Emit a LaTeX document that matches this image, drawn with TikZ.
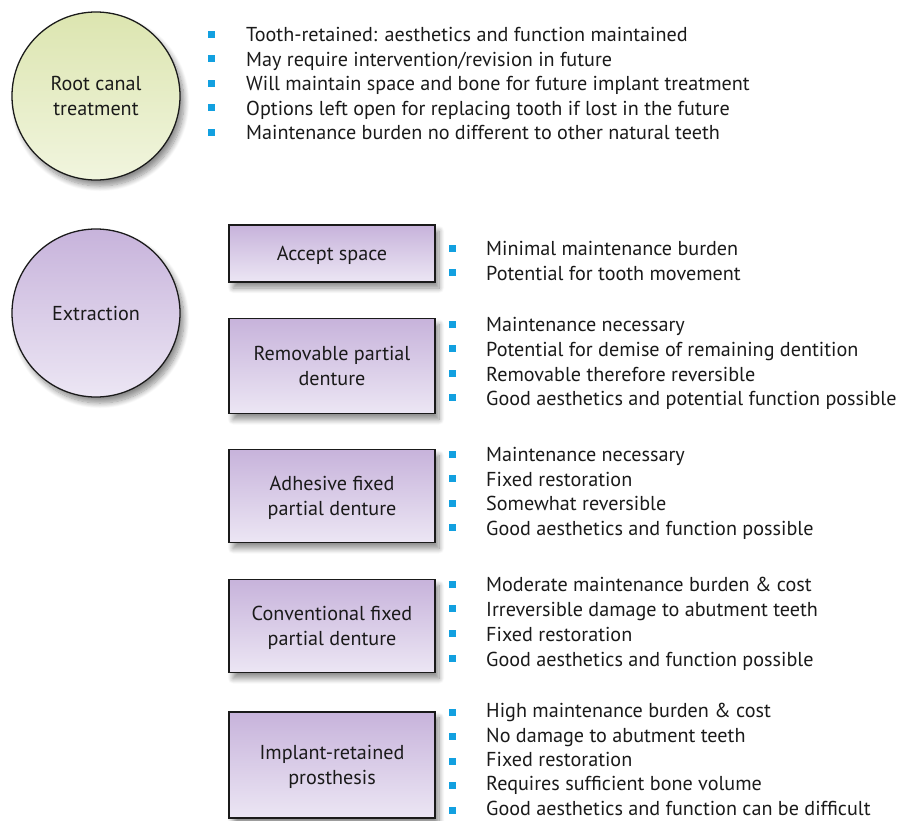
\documentclass[tikz,border=0pt]{standalone}
\usepackage{fontspec}
\setmainfont{PT Sans}
\usetikzlibrary{shadows.blur, positioning}
\definecolor{rcGreenTop}{HTML}{DCE5B0}
\definecolor{rcGreenBot}{HTML}{F1F5DE}
\definecolor{rcGreenLine}{HTML}{A9C26B}
\definecolor{exPurpleTop}{HTML}{C7B3DB}
\definecolor{exPurpleBot}{HTML}{ECE6F4}
\definecolor{exPurpleLine}{HTML}{7D5E9A}
\definecolor{bulletBlue}{HTML}{12A0E0}
\definecolor{txtGrey}{HTML}{1A1A1A}
\tikzset{
  % one unit is one pixel of the original figure, y runs downwards
  every picture/.append style = {x=0.3mm, y=-0.3mm},
  softshadow/.style = {blur shadow={shadow xshift=1.2mm, shadow yshift=-1.8mm,
                        shadow blur steps=10, shadow blur radius=1.6mm, shadow opacity=45}},
  greenball/.style  = {circle, minimum size=50.4mm, draw=rcGreenLine, line width=1.1pt,
                       top color=rcGreenTop, bottom color=rcGreenBot, softshadow,
                       align=center, txtGrey},
  purpleball/.style = {circle, minimum size=50.4mm, draw=exPurpleLine, line width=1.1pt,
                       top color=exPurpleTop, bottom color=exPurpleBot, softshadow,
                       align=center, txtGrey},
  optbox/.style     = {rectangle, minimum width=61.8mm, draw=exPurpleLine, line width=1.5pt,
                       top color=exPurpleTop, bottom color=exPurpleBot, softshadow,
                       align=center, txtGrey, text depth=0pt},
  sqbullet/.style   = {rectangle, fill=bulletBlue, inner sep=0pt, minimum size=2.1mm},
  item/.style       = {anchor=mid west, inner sep=0pt, txtGrey},
}
\begin{document}
\begin{tikzpicture}[font=\fontsize{17.2}{21}\selectfont]
  \useasboundingbox (0,0) rectangle (898,820);
  % the two main options
  \node[greenball, text depth=0pt] (rct) at (96,96) {Root canal\\treatment};
  \node[purpleball] (ext) at (96,313) {Extraction};
  % root canal outcomes
  \foreach \txt [count=\i from 0] in {Tooth-retained: aesthetics and function maintained,
      May require intervention/revision in future,
      Will maintain space and bone for future implant treatment,
      Options left open for replacing tooth if lost in the future,
      Maintenance burden no different to other natural teeth} {
    \node[sqbullet] (rct-b\i) at (211,34+24.5*\i) {};
    \node[item] (rct-t\i) at (246,39+24.5*\i) {\txt};
  }
  % replacement options after extraction
  \node[optbox, minimum height=17.1mm] (accept) at (332,253.5) {Accept space};
  \node[optbox, minimum height=28.5mm] (rpd) at (332,366) {Removable partial\\denture};
  \node[optbox, minimum height=27.9mm] (afpd) at (332,496) {Adhesive fixed\\partial denture};
  \node[optbox, minimum height=27.9mm] (cfpd) at (332,626) {Conventional fixed\\partial denture};
  \node[optbox, minimum height=32mm] (impl) at (332,765) {Implant-retained\\prosthesis};
  \foreach \txt [count=\i from 0] in {Minimal maintenance burden,
      Potential for tooth movement} {
    \node[sqbullet] (acc-b\i) at (452,248+24.5*\i) {};
    \node[item] (acc-t\i) at (486,253+24.5*\i) {\txt};
  }
  \foreach \txt [count=\i from 0] in {Maintenance necessary,
      Potential for demise of remaining dentition,
      Removable therefore reversible,
      Good aesthetics and potential function possible} {
    \node[sqbullet] (rpd-b\i) at (452,324+24.6*\i) {};
    \node[item] (rpd-t\i) at (486,329+24.6*\i) {\txt};
  }
  \foreach \txt [count=\i from 0] in {Maintenance necessary,
      Fixed restoration,
      Somewhat reversible,
      Good aesthetics and function possible} {
    \node[sqbullet] (afpd-b\i) at (452,454+24.5*\i) {};
    \node[item] (afpd-t\i) at (486,459+24.5*\i) {\txt};
  }
  \foreach \txt [count=\i from 0] in {Moderate maintenance burden \& cost,
      Irreversible damage to abutment teeth,
      Fixed restoration,
      Good aesthetics and function possible} {
    \node[sqbullet] (cfpd-b\i) at (452,584+24.8*\i) {};
    \node[item] (cfpd-t\i) at (486,589+24.8*\i) {\txt};
  }
  \foreach \txt [count=\i from 0] in {High maintenance burden \& cost,
      No damage to abutment teeth,
      Fixed restoration,
      Requires sufficient bone volume,
      Good aesthetics and function can be difficult} {
    \node[sqbullet] (impl-b\i) at (452,712+24.5*\i) {};
    \node[item] (impl-t\i) at (486,715+24.3*\i) {\txt};
  }
\end{tikzpicture}
\end{document}
